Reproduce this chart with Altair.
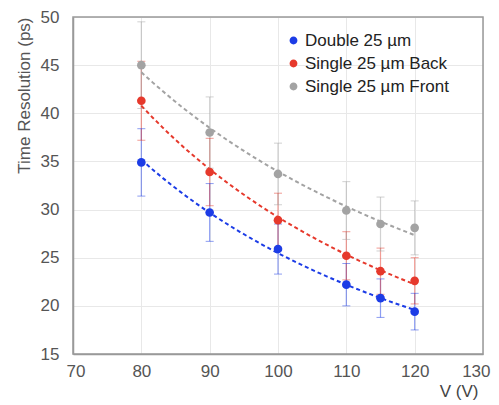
import altair as alt
import pandas as pd

volts = [80, 90, 100, 110, 115, 120]
series_names = ["Double 25 µm", "Single 25 µm Back", "Single 25 µm Front"]
double_vals = [34.9, 29.7, 25.9, 22.2, 20.8, 19.4]
double_err = [3.5, 3.0, 2.6, 2.2, 2.0, 1.9]
back_vals = [41.3, 33.9, 28.9, 25.2, 23.6, 22.6]
back_err = [4.1, 3.5, 2.8, 2.5, 2.4, 2.4]
front_vals = [45.0, 38.0, 33.7, 29.9, 28.5, 28.1]
front_err = [4.5, 3.7, 3.2, 3.0, 2.8, 2.8]
colors = ["#1c3ce6", "#e6392c", "#a3a3a3"]
x_ticks = [70, 80, 90, 100, 110, 120, 130]
y_ticks = [15, 20, 25, 30, 35, 40, 45, 50]

rows = []
for name, vals, errs in zip(series_names, [double_vals, back_vals, front_vals],
                            [double_err, back_err, front_err]):
    for v, t, e in zip(volts, vals, errs):
        rows.append({"V": v, "T": t, "lo": t - e, "hi": t + e, "series": name})
df = pd.DataFrame(rows)

font = "Liberation Sans"
xs = alt.Scale(domain=[x_ticks[0], x_ticks[-1]], nice=False)
ys = alt.Scale(domain=[y_ticks[0], y_ticks[-1]], nice=False, zero=False)
cs = alt.Scale(domain=series_names, range=colors)

color_enc = alt.Color("series:N", scale=cs, title=None,
                      legend=alt.Legend(orient="none", legendX=212, legendY=15,
                                        symbolType="circle", symbolSize=40,
                                        labelFontSize=17, labelColor="#222",
                                        rowPadding=5, symbolOpacity=1,
                                        labelOffset=3, labelLimit=300))

base = alt.Chart(df)

x_enc = alt.X("V:Q", scale=xs,
              axis=alt.Axis(values=x_ticks, title="V (V)",
                            titleX=405, titleAlign="right",
                            titleFontWeight="normal",
                            titleFontSize=17, titleColor="#444", titlePadding=4,
                            labelFontSize=17, labelColor="#555", labelPadding=9,
                            tickSize=0, domainColor="#999", domainWidth=1.5,
                            gridColor="#e8e8e8", labelFlush=True,
                            labelFlushOffset=7))
y_enc = alt.Y("T:Q", scale=ys,
              axis=alt.Axis(values=y_ticks,
                            title="Time Resolution (ps)", titleAnchor="end",
                            titleFontWeight="normal", titleFontSize=17,
                            titleColor="#555", titlePadding=7,
                            labelFontSize=17, labelColor="#555", labelPadding=14,
                            tickSize=0, domainColor="#999", domainWidth=1.5,
                            gridColor="#e8e8e8", labelFlush=False))

bars = base.mark_rule(strokeWidth=1.2, opacity=0.5).encode(
    x=alt.X("V:Q", scale=xs), y=alt.Y("lo:Q", scale=ys), y2="hi:Q",
    color=color_enc)
cap_lo = base.mark_tick(size=8, thickness=1, opacity=0.5, orient="horizontal").encode(
    x=alt.X("V:Q", scale=xs), y=alt.Y("lo:Q", scale=ys), color=color_enc)
cap_hi = base.mark_tick(size=8, thickness=1, opacity=0.5, orient="horizontal").encode(
    x=alt.X("V:Q", scale=xs), y=alt.Y("hi:Q", scale=ys), color=color_enc)

fit = base.transform_regression("V", "T", method="pow", groupby=["series"],
                                extent=[volts[0], volts[-1]]).mark_line(
    strokeDash=[4, 3], strokeWidth=2).encode(
    x=alt.X("V:Q", scale=xs), y=alt.Y("T:Q", scale=ys), color=color_enc)

pts = base.mark_circle(size=75, opacity=1).encode(x=x_enc, y=y_enc, color=color_enc)

frame = alt.Chart(pd.DataFrame({"k": [0]})).mark_rect(
    fill=None, stroke="#999", strokeWidth=1.5).encode(
    x=alt.value(0), x2=alt.value(410), y=alt.value(0), y2=alt.value(337))

chart = alt.layer(bars, cap_lo, cap_hi, fit, pts, frame).properties(
    width=410, height=337,
    autosize=alt.AutoSizeParams(type="none"),
    padding={"left": 65, "top": 9, "right": 8, "bottom": 51},
).configure(font=font).configure_view(stroke=None)

chart.save("out.html", embed_options={"renderer": "svg", "actions": False})
